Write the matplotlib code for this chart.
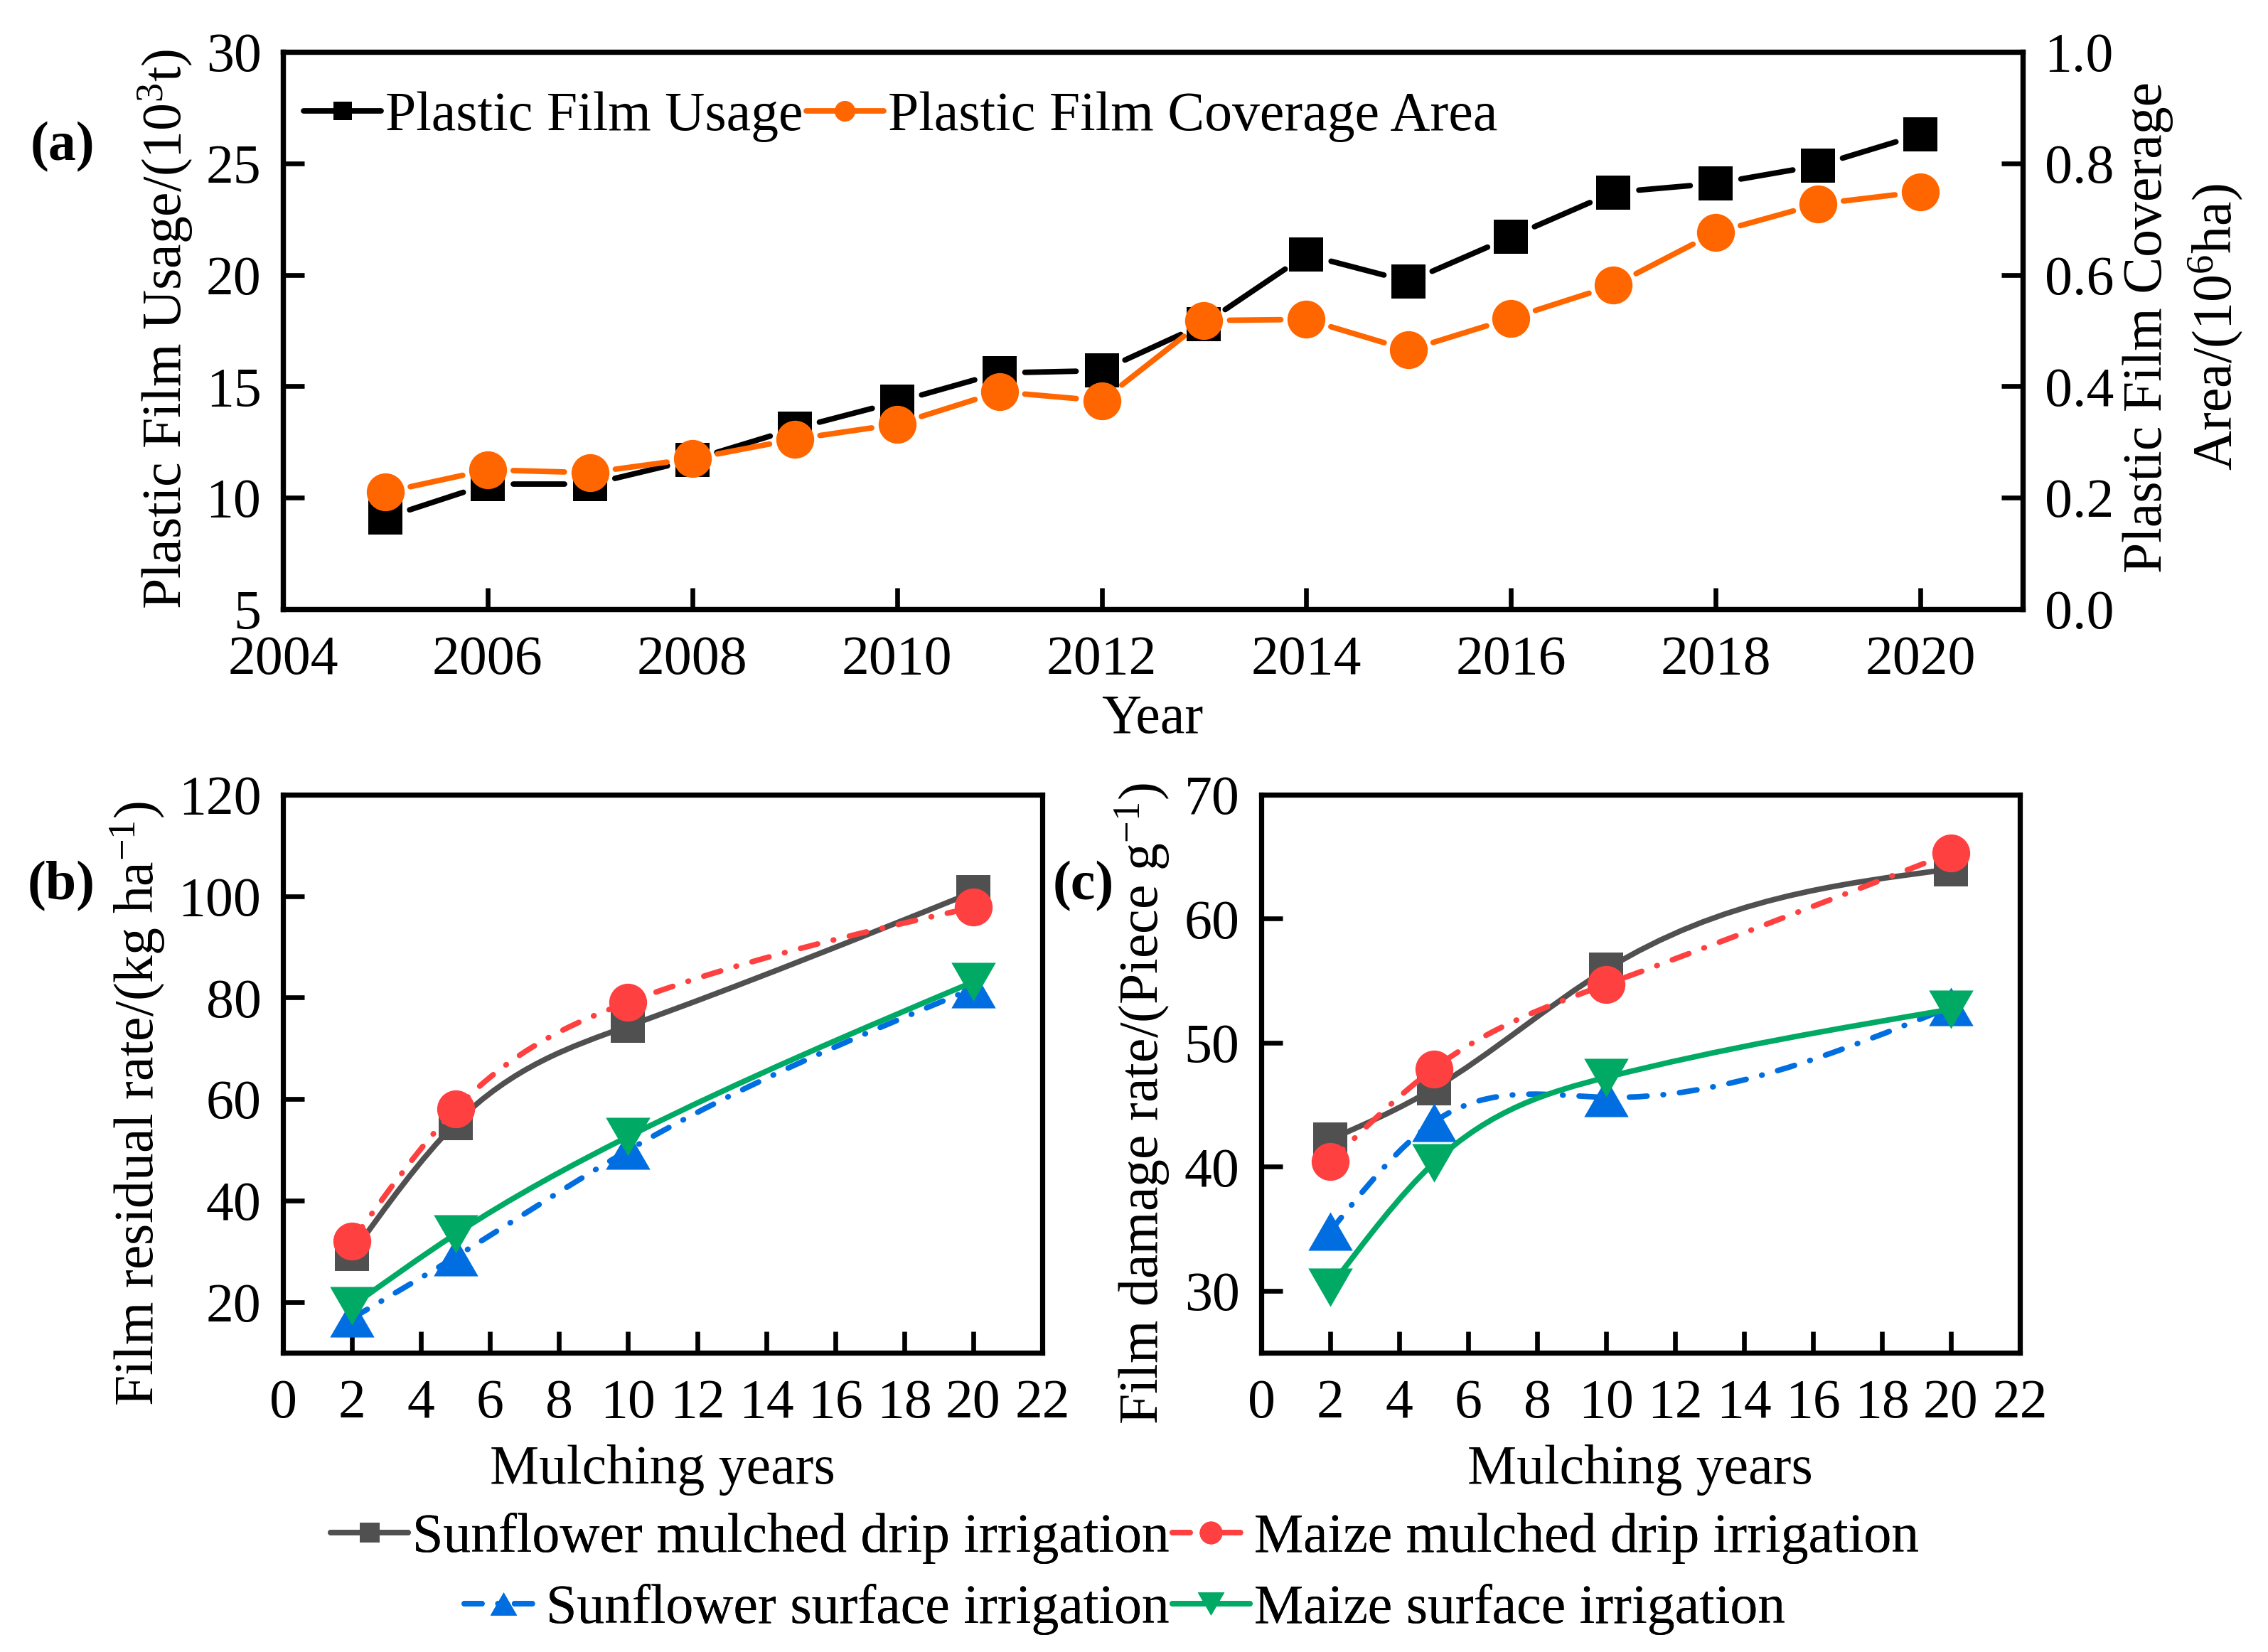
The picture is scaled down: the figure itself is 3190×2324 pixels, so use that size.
import numpy as np
import matplotlib
matplotlib.use('Agg')
import matplotlib.pyplot as plt
from matplotlib.path import Path
from matplotlib.patches import PathPatch
from matplotlib.lines import Line2D
from matplotlib.collections import LineCollection
from matplotlib.ticker import MultipleLocator, FormatStrFormatter

# ---------------- data ----------------
years = [2005, 2006, 2007, 2008, 2009, 2010, 2011, 2012,
         2013, 2014, 2015, 2016, 2017, 2018, 2019, 2020]
film_usage = [9.1, 10.6, 10.6, 11.7, 13.1, 14.3, 15.6, 15.7,
              17.8, 20.9, 19.7, 21.7, 23.7, 24.1, 24.9, 26.3]
coverage_area = [0.21, 0.25, 0.245, 0.27, 0.305, 0.332, 0.39, 0.374,
                 0.518, 0.52, 0.465, 0.522, 0.581, 0.676, 0.727, 0.749]

mulch_years = [2, 5, 10, 20]
res_sun_drip = [29.5, 55.2, 74.4, 100.8]
res_maize_drip = [32.0, 58.0, 79.1, 97.8]
res_sun_surf = [16.8, 28.9, 49.9, 81.8]
res_maize_surf = [19.2, 33.4, 52.6, 83.1]

dmg_sun_drip = [42.2, 46.3, 55.9, 64.0]
dmg_maize_drip = [40.4, 47.9, 54.7, 65.3]
dmg_sun_surf = [34.8, 43.6, 45.6, 52.9]
dmg_maize_surf = [30.3, 40.3, 47.2, 52.7]

series_labels = ["Sunflower mulched drip irrigation", "Maize mulched drip irrigation",
                 "Sunflower surface irrigation", "Maize surface irrigation"]

# ---------------- style ----------------
plt.rcParams['font.family'] = ['Liberation Serif', 'DejaVu Serif']
plt.rcParams['font.size'] = 28
plt.rcParams['mathtext.fontset'] = 'custom'
plt.rcParams['mathtext.rm'] = 'Liberation Serif'
plt.rcParams['mathtext.it'] = 'Liberation Serif:italic'
plt.rcParams['mathtext.bf'] = 'Liberation Serif:bold'

C_BLACK = '#000000'
C_ORANGE = '#FF6600'
C_GRAY = '#505050'
C_RED = '#FF4040'
C_BLUE = '#006EE0'
C_GREEN = '#00AA64'
LW = 2.8
DASHDOT = (0, (3.2, 2.9, 0.1, 2.9))
TRI_UP = [(0, 0.866), (-1, -0.866), (1, -0.866)]
TRI_DN = [(0, -0.866), (-1, 0.866), (1, 0.866)]

W, H = 3190, 2324
DPI = 200
fig = plt.figure(figsize=(W / DPI, H / DPI), dpi=DPI)


def rect(l, t, r, b):
    return [l / W, 1 - b / H, (r - l) / W, (b - t) / H]


def style(ax):
    for s in ax.spines.values():
        s.set_linewidth(2.6)
    ax.tick_params(axis='both', direction='in', length=10.8, width=2.4, labelsize=28)
    ax.tick_params(axis='x', pad=13)
    ax.tick_params(axis='y', pad=11)


def gapped_line(ax, x, y, gap_px, **kw):
    pts = ax.transData.transform(np.column_stack([x, y]))
    inv = ax.transData.inverted()
    segs = []
    for p0, p1 in zip(pts[:-1], pts[1:]):
        d = p1 - p0
        L = np.hypot(d[0], d[1])
        u = d / L
        segs.append(inv.transform(np.array([p0 + u * gap_px, p1 - u * gap_px])))
    lc = LineCollection(segs, **kw)
    ax.add_collection(lc)


def spline_curve(ax, x, y, color, ls, zorder):
    x = np.asarray(x, float)
    y = np.asarray(y, float)
    n = len(x)
    h = np.diff(x)
    d = np.diff(y) / h
    A = np.zeros((n - 2, n - 2))
    rhs = np.zeros(n - 2)
    for i in range(1, n - 1):
        A[i - 1, i - 1] = 2 * (h[i - 1] + h[i])
        if i - 2 >= 0:
            A[i - 1, i - 2] = h[i - 1]
        if i < n - 2:
            A[i - 1, i] = h[i]
        rhs[i - 1] = 6 * (d[i] - d[i - 1])
    M = np.zeros(n)
    M[1:-1] = np.linalg.solve(A, rhs)
    verts = [(x[0], y[0])]
    codes = [Path.MOVETO]
    for i in range(n - 1):
        s0 = d[i] - h[i] * (2 * M[i] + M[i + 1]) / 6
        s1 = d[i] + h[i] * (M[i] + 2 * M[i + 1]) / 6
        verts += [(x[i] + h[i] / 3, y[i] + s0 * h[i] / 3),
                  (x[i + 1] - h[i] / 3, y[i + 1] - s1 * h[i] / 3),
                  (x[i + 1], y[i + 1])]
        codes += [Path.CURVE4] * 3
    patch = PathPatch(Path(verts, codes), facecolor='none', edgecolor=color,
                      lw=LW, linestyle=ls, zorder=zorder)
    patch.set_capstyle('round')
    patch.set_joinstyle('round')
    ax.add_patch(patch)


# ---------------- panel (a) ----------------
ax = fig.add_axes(rect(398, 73, 2845, 857))
style(ax)
ax.set_xlim(2004, 2021)
ax.set_ylim(5, 30)
ax.xaxis.set_major_locator(MultipleLocator(2))
ax.yaxis.set_major_locator(MultipleLocator(5))
ax2 = ax.twinx()
style(ax2)
ax2.set_ylim(0, 1.0)
ax2.yaxis.set_major_locator(MultipleLocator(0.2))
ax2.yaxis.set_major_formatter(FormatStrFormatter('%.1f'))

gapped_line(ax, years, film_usage, 36, colors=C_BLACK, linewidths=LW, capstyle='round')
ax.plot(years, film_usage, ls='none', marker='s', ms=17.3, mew=0, color=C_BLACK)
gapped_line(ax2, years, coverage_area, 36, colors=C_ORANGE, linewidths=LW, capstyle='round')
ax2.plot(years, coverage_area, ls='none', marker='o', ms=19.2, mew=0, color=C_ORANGE)

h_a = [Line2D([], [], color=C_BLACK, lw=LW, marker='s', ms=9.5, mew=0, solid_capstyle='round'),
       Line2D([], [], color=C_ORANGE, lw=LW, marker='o', ms=10.5, mew=0, solid_capstyle='round')]
ax.legend(h_a, ["Plastic Film Usage", "Plastic Film Coverage Area"], ncol=2,
          loc='center left', bbox_to_anchor=(0.012, 0.883), frameon=False,
          handlelength=1.4, handletextpad=0.08, columnspacing=0.05,
          borderpad=0, borderaxespad=0, fontsize=28)

fig.text(233 / W, 1 - 463 / H, r"Plastic Film Usage/(10$^{3}$t)", rotation=90,
         ha='center', va='center', fontsize=28)
fig.text(3072 / W, 1 - 460 / H, "Plastic Film Coverage\n" + r"Area/(10$^{6}$ha)",
         rotation=90, ha='center', va='center', multialignment='center',
         linespacing=1.3, fontsize=28)
fig.text(1621 / W, 1 - 1012 / H, "Year", ha='center', va='center', fontsize=28)
fig.text(88 / W, 1 - 207 / H, "(a)", ha='center', va='center', fontsize=28, fontweight='bold')

# ---------------- panels (b), (c) ----------------
styles = [
    dict(color=C_GRAY, ls='-', marker='s', ms=17.3),
    dict(color=C_RED, ls=DASHDOT, marker='o', ms=19.2),
    dict(color=C_BLUE, ls=DASHDOT, marker=TRI_UP, ms=22.5),
    dict(color=C_GREEN, ls='-', marker=TRI_DN, ms=22.5),
]

axb = fig.add_axes(rect(398, 1118, 1466, 1903))
axc = fig.add_axes(rect(1774, 1118, 2841, 1903))
for a_, lim, step in [(axb, (10, 120), 20), (axc, (25, 70), 10)]:
    style(a_)
    a_.set_xlim(0, 22)
    a_.set_ylim(*lim)
    a_.xaxis.set_major_locator(MultipleLocator(2))
    a_.set_yticks(np.arange(lim[0] + (step - lim[0] % step) % step, lim[1] + 0.1, step))

for a_, data in [(axb, [res_sun_drip, res_maize_drip, res_sun_surf, res_maize_surf]),
                 (axc, [dmg_sun_drip, dmg_maize_drip, dmg_sun_surf, dmg_maize_surf])]:
    for k, (vals, st) in enumerate(zip(data, styles)):
        z = 2 + k * 0.1
        spline_curve(a_, mulch_years, vals, st['color'], st['ls'], z)
        a_.plot(mulch_years, vals, ls='none', marker=st['marker'], ms=st['ms'], mew=0,
                color=st['color'], zorder=z + 0.05)

fig.text(194 / W, 1 - 1552 / H, r"Film residual rate/(kg ha$^{-1}$)", rotation=90,
         ha='center', va='center', fontsize=28)
fig.text(1607 / W, 1 - 1552 / H, r"Film damage rate/(Piece g$^{-1}$)", rotation=90,
         ha='center', va='center', fontsize=28)
fig.text(932 / W, 1 - 2068 / H, "Mulching years", ha='center', va='center', fontsize=28)
fig.text(2307 / W, 1 - 2068 / H, "Mulching years", ha='center', va='center', fontsize=28)
fig.text(86 / W, 1 - 1247 / H, "(b)", ha='center', va='center', fontsize=28, fontweight='bold')
fig.text(1524 / W, 1 - 1247 / H, "(c)", ha='center', va='center', fontsize=28, fontweight='bold')

handles = []
for st in styles:
    handles.append(Line2D([], [], color=st['color'], lw=LW, ls=st['ls'], marker=st['marker'],
                          ms=st['ms'] * 0.6, mew=0, solid_capstyle='round',
                          dash_capstyle='round'))
for row, yc in [(0, 2164), (1, 2264)]:
    leg = fig.legend(handles[2 * row:2 * row + 2], series_labels[2 * row:2 * row + 2],
                     ncol=2, loc='center', bbox_to_anchor=(1582 / W, 1 - yc / H),
                     frameon=False, handlelength=1.4, handletextpad=0.08,
                     columnspacing=0.05, borderpad=0, borderaxespad=0, fontsize=28)
    fig.add_artist(leg)

fig.savefig('out.png', dpi=DPI)
